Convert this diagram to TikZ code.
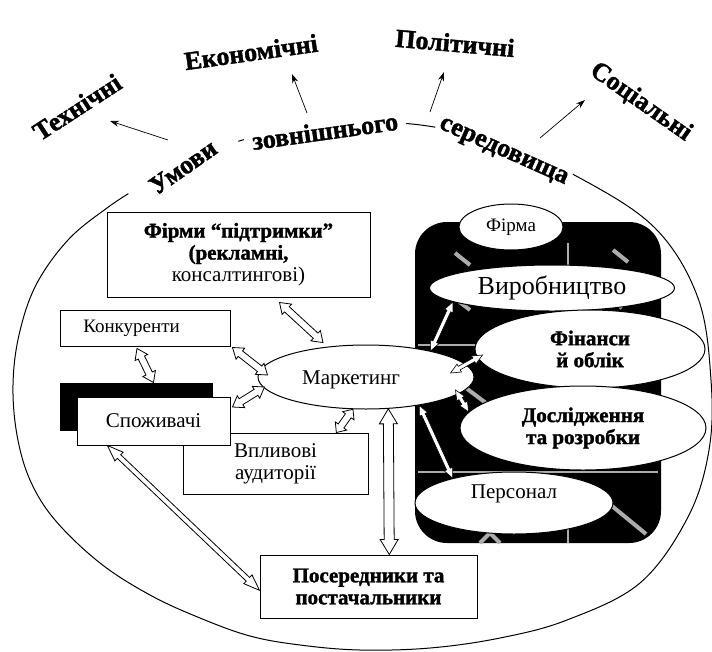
\documentclass[tikz,border=0pt]{standalone}
\usepackage{fontspec}
\setmainfont{Liberation Serif}[BoldFeatures={FakeBold=1.5}]
\usetikzlibrary{shapes.geometric,calc,shadows,arrows.meta}
\tikzstyle{bx}=[rectangle,draw=black,line width=1pt,fill=white,inner sep=2pt,align=center,font=\fontsize{21}{22}\selectfont]
\tikzstyle{ov}=[ellipse,draw=black,line width=1pt,fill=white,inner sep=0pt,align=center,font=\fontsize{21}{22}\selectfont]
\tikzstyle{env}=[font=\fontsize{26}{28}\selectfont\bfseries,inner sep=1pt]
\tikzstyle{onarc}=[env,fill=white,inner sep=3pt]
\tikzstyle{up}=[line width=.7pt,-{Stealth[length=9pt,width=6pt]}]
\tikzstyle{hatch}=[gray!65,line width=4pt]
\tikzstyle{seam}=[gray!65,line width=1.5pt]
\tikzset{
  dbl/.style n args={3}{line width=.8pt,fill=white,
    /utils/exec={\def\arhl{#1}\def\arhw{#2}\def\arsw{#3}},
    to path={let \p1=(\tikztostart),\p2=(\tikztotarget),
      \n1={atan2(\y2-\y1,\x2-\x1)} in
      (\p1) -- ($(\p1)+(\n1:\arhl)+(\n1+90:\arhw)$)
      -- ($(\p1)+(\n1:\arhl)+(\n1+90:\arsw)$)
      -- ($(\p2)+(\n1+180:\arhl)+(\n1+90:\arsw)$)
      -- ($(\p2)+(\n1+180:\arhl)+(\n1+90:\arhw)$)
      -- (\p2)
      -- ($(\p2)+(\n1+180:\arhl)+(\n1-90:\arhw)$)
      -- ($(\p2)+(\n1+180:\arhl)+(\n1-90:\arsw)$)
      -- ($(\p1)+(\n1:\arhl)+(\n1-90:\arsw)$)
      -- ($(\p1)+(\n1:\arhl)+(\n1-90:\arhw)$) -- cycle}},
  bigarr/.style={dbl={15pt}{9pt}{5pt}},
  midarr/.style={dbl={10pt}{7pt}{3.5pt}},
  longarr/.style={dbl={16pt}{6pt}{2.5pt}},
  thinarr/.style={dbl={10pt}{4.5pt}{2pt},line width=.6pt},
}

\begin{document}
\begin{tikzpicture}[x=1pt,y=-1pt]
\useasboundingbox (0,0) rectangle (712,651);

\draw[line width=1pt] plot[smooth cycle,tension=.6] coordinates {
 (13,385) (19,335) (36,285) (68,240) (107,208) (141,186) (182,163) (250,138)
 (330,126) (412,124) (500,143) (578,177) (655,228) (698,298) (711,380) (709,450)
 (688,517) (640,583) (567,620) (500,638) (430,648) (360,650) (300,645) (250,636)
 (200,618) (150,595) (100,563) (55,520) (30,480) (17,435)};

\node[onarc,rotate=35,inner xsep=22pt] (umovy) at (183,167) {Умови};
\node[onarc,rotate=8,inner xsep=8pt] (zovn) at (325,131) {зовнішнього};
\node[onarc,rotate=-24] (sered) at (503,153) {середовища};

\node[env,rotate=33] (tech) at (77,107) {Технічні};
\node[env,rotate=8] (econ) at (251,52) {Економічні};
\node[env,rotate=-5] (polit) at (455,43) {Політичні};
\node[env,rotate=-35] (soc) at (641,102) {Соціальні};
\coordinate (t0) at (168,140); \coordinate (t1) at (110,121);
\coordinate (e0) at (307,113); \coordinate (e1) at (292,74);
\coordinate (p0) at (430,112); \coordinate (p1) at (444,72);
\coordinate (s0) at (540,138); \coordinate (s1) at (585,100);
\draw[up] (t0) -- (t1);
\draw[up] (e0) -- (e1);
\draw[up] (p0) -- (p1);
\draw[up] (s0) -- (s1);

\fill[black,rounded corners=32pt] (415,222) rectangle (661,543);
\draw[hatch] (455,253) -- (470,265);
\draw[hatch] (613,250) -- (628,262);
\draw[hatch] (457,300) -- (470,310);
\draw[hatch] (612,300) -- (622,308);
\draw[hatch] (466,388) -- (486,403);
\draw[hatch] (612,506) -- (646,534);
\draw[hatch] (480,543) -- (490,533) -- (500,543);
\draw[seam] (568,243) -- (568,268);
\draw[seam] (418,345) -- (480,345);
\draw[seam] (418,472) -- (658,472);
\draw[seam] (568,526) -- (568,543);

\node[ov,minimum width=104pt,minimum height=46pt,font=\fontsize{19}{20}\selectfont] (firma) at (511,227) {Фірма};
\node[ov,minimum width=245pt,minimum height=46pt,font=\fontsize{26}{28}\selectfont] (vyrob) at (552,288) {Виробництво};
\node[ov,minimum width=230pt,minimum height=78pt,font=\fontsize{21}{22}\selectfont\bfseries] (fin) at (590,349) {Фінанси\\й облік};
\node[ov,minimum width=246pt,minimum height=84pt,font=\fontsize{21}{22}\selectfont\bfseries] (dosl) at (583,428) {Дослідження\\та розробки};
\node[ov,minimum width=198pt,minimum height=62pt,label={[font=\fontsize{21}{22}\selectfont,yshift=9pt]center:Персонал}] (pers) at (514,503) {};

\node[bx,minimum width=263pt,minimum height=85pt] (firmy) at (238.5,254.5)
  {\textbf{Фірми “підтримки”}\\\textbf{(рекламні,}\\консалтингові)};
\node[bx,minimum width=170pt,minimum height=36pt,label={[font=\fontsize{19}{20}\selectfont,xshift=-13.5pt]center:Конкуренти}] (konk) at (145,328) {};
\node[bx,minimum width=185pt,minimum height=61pt] (vpl) at (275.5,463.5) {Впливові\\аудиторії};
\node[bx,minimum width=153pt,minimum height=48pt,
  general shadow={fill=black,shadow xshift=-17pt,shadow yshift=14pt}] (spoz) at (153.5,421) {Споживачі};
\node[bx,minimum width=217pt,minimum height=63pt,font=\fontsize{21}{22}\selectfont\bfseries] (posr) at (368.5,586.5) {Посередники та\\постачальники};
\node[ov,minimum width=216pt,minimum height=64pt,label={[font=\fontsize{21}{22}\selectfont,xshift=-15pt,yshift=-3pt]center:Маркетинг}] (mark) at (366,377) {};

\draw[midarr] ([shift={(41,5)}]firmy.south) to ([shift={(-43,-2)}]mark.north);
\draw[midarr] ([shift={(-8,2)}]konk.south) to ([shift={(0,-14)}]spoz.north);
\draw[midarr] ([shift={(2,1)}]konk.south east) to ([shift={(10,-2)}]mark.west);
\draw[midarr] ([shift={(2,-14)}]spoz.east) to ([shift={(7,10)}]mark.west);
\draw[dbl={8pt}{7pt}{3.5pt}] (mark.248) to (vpl.27);
\draw[bigarr] (mark.-55) to (posr.57);
\draw[longarr] (spoz.208) to (posr.182);
\draw[thinarr] (mark.22) to (vyrob.188);
\draw[thinarr] ([shift={(-24,-4)}]mark.east) to ([shift={(8,6)}]fin.west);
\draw[thinarr] ([shift={(-19,13)}]mark.east) to (dosl.172);
\draw[thinarr] (mark.-28) to (pers.158);
\end{tikzpicture}
\end{document}
